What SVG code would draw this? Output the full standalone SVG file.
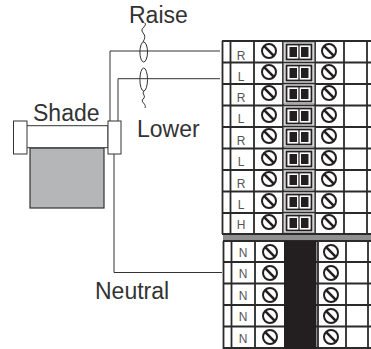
<svg xmlns="http://www.w3.org/2000/svg" width="371" height="349" viewBox="0 0 371 349">
<style>
.w{fill:none;stroke:#333;stroke-width:1}
.g{fill:none;stroke:#2a2a2a;stroke-width:1.8}
.b{fill:#fff;stroke:#333;stroke-width:1}
.lb{font-family:"Liberation Sans",Arial,sans-serif;font-size:23px;fill:#333}
.t{font-family:"Liberation Sans",Arial,sans-serif;font-size:12px;fill:#555;text-anchor:middle}
.s{fill:#fff;stroke:#231f20;stroke-width:2}
.sl{stroke:#231f20;stroke-width:2.600}
</style>
<defs>
<g id="screw"><circle class="s" r="7"/><line class="sl" x1="-4.800" y1="-4.800" x2="4.800" y2="4.800"/></g>
<g id="jump"><rect x="-15" y="-9.500" width="30" height="19" fill="#fff" stroke="#aaa" stroke-width="1"/><rect x="-12.500" y="-7.500" width="25" height="15" fill="#fff" stroke="#231f20" stroke-width="1.800"/><rect x="-9.500" y="-5" width="7.500" height="10" fill="#231f20"/><rect x="2" y="-5" width="7.500" height="10" fill="#231f20"/><line x1="0" y1="-7" x2="0" y2="7" stroke="#231f20" stroke-width="1.200"/></g>
</defs>
<g id="connectors">
<path class="w" d="M110 122V51H220"/>
<path class="w" d="M118 122V78.700H220"/>
<path class="w" d="M114 154V272.500H222"/>
<ellipse class="w" cx="143.700" cy="52" rx="3.800" ry="10"/>
<ellipse class="w" cx="143.700" cy="79.500" rx="3.800" ry="11.500"/>
<path class="w" d="M145 23C147 26 141 28 142 31C143 34 147 35 143 42"/>
<path class="w" d="M144 91C141 94 147 96 143 99C140 102 147 104 145 108"/>
</g>
<g id="shade">
<rect x="30" y="148" width="74" height="60" fill="#b5b6b8" stroke="#333" stroke-width="1.200"/>
<rect class="b" x="26" y="125.700" width="82" height="22"/>
<rect class="b" x="13.500" y="121" width="13.500" height="33"/>
<rect class="b" x="108" y="121" width="13" height="33"/>
</g>
<g id="labels">
<text class="lb" x="129" y="23">Raise</text>
<text class="lb" x="33" y="120.500">Shade</text>
<text class="lb" x="137" y="136.500">Lower</text>
<text class="lb" x="95" y="299">Neutral</text>
</g>
<g id="terminal-upper">
<path class="g" d="M222 41H371M222 62.500H371M222 84H371M222 105.500H371M222 127H371M222 148.500H371M222 170H371M222 191.500H371M222 213H371M222 234H371"/>
<path class="g" d="M222.500 41V234M230.500 41V234M254 41V234M283 41V234M315 41V234M344 41V234M367 41V234"/>
<text class="t" x="241" y="60">R</text><text class="t" x="241" y="81">L</text><text class="t" x="241" y="102">R</text><text class="t" x="241" y="123">L</text><text class="t" x="241" y="145">R</text><text class="t" x="241" y="166">L</text><text class="t" x="241" y="188">R</text><text class="t" x="241" y="209">L</text><text class="t" x="241" y="229">H</text>
<use href="#screw" x="269" y="51"/><use href="#screw" x="269" y="72"/><use href="#screw" x="269" y="93"/><use href="#screw" x="269" y="115"/><use href="#screw" x="269" y="136"/><use href="#screw" x="269" y="158"/><use href="#screw" x="269" y="179"/><use href="#screw" x="269" y="201"/><use href="#screw" x="269" y="222"/>
<use href="#jump" x="299" y="52"/><use href="#jump" x="299" y="73"/><use href="#jump" x="299" y="94"/><use href="#jump" x="299" y="116"/><use href="#jump" x="299" y="137"/><use href="#jump" x="299" y="159"/><use href="#jump" x="299" y="180"/><use href="#jump" x="299" y="202"/><use href="#jump" x="299" y="223"/>
<use href="#screw" x="329" y="51"/><use href="#screw" x="329" y="72"/><use href="#screw" x="329" y="93"/><use href="#screw" x="329" y="115"/><use href="#screw" x="329" y="136"/><use href="#screw" x="329" y="158"/><use href="#screw" x="329" y="179"/><use href="#screw" x="329" y="201"/><use href="#screw" x="329" y="222"/>
</g>
<g id="divider"><rect x="223" y="234" width="148" height="7" fill="#8f8f8f"/><path class="g" d="M223 234H371M223 241H371"/></g>
<g id="terminal-lower">
<path class="g" d="M223 262H371M223 283.500H371M223 305H371M223 326.500H371M223 348H371"/>
<path class="g" d="M223.500 241V349M231.500 241V349M255 241V349M346 241V349M368 241V349"/>
<rect x="284" y="241" width="32.500" height="108" fill="#231f20"/>
<path class="g" d="M318 241V349"/>
<text class="t" x="243" y="257">N</text><text class="t" x="243" y="278">N</text><text class="t" x="243" y="300">N</text><text class="t" x="243" y="321">N</text><text class="t" x="243" y="343">N</text>
<use href="#screw" x="270" y="252"/><use href="#screw" x="270" y="273"/><use href="#screw" x="270" y="295"/><use href="#screw" x="270" y="316"/><use href="#screw" x="270" y="337"/>
<use href="#screw" x="331" y="252"/><use href="#screw" x="331" y="273"/><use href="#screw" x="331" y="295"/><use href="#screw" x="331" y="316"/><use href="#screw" x="331" y="337"/>
</g>
</svg>
